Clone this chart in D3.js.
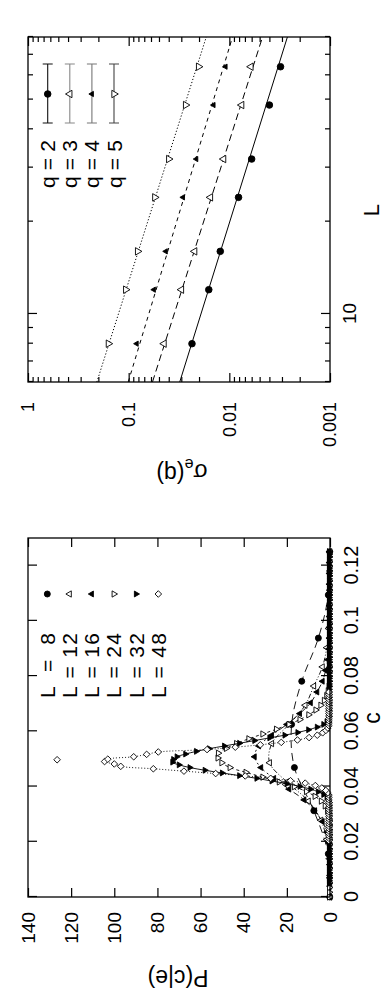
<!DOCTYPE html>
<html>
<head>
<meta charset="utf-8">
<script src="https://cdn.jsdelivr.net/npm/d3@7"></script>
<style>
  body { margin: 0; background: #fff; }
  svg { display: block; }
  text { font-family: "Liberation Sans", Arial, Helvetica, sans-serif; fill: #000; }
</style>
</head>
<body>
<script>
// ---- data : left panel, P(c|e) for several L, c = k / L^2 ----
const sizesL = [8, 12, 16, 24, 32, 48];
const kStart = [0, 0, 0, 0, 5, 47];
const kStep = [1, 1, 1, 1, 1, 2];
const flat = (n, v) => Array(n).fill(v);

const p8 = [0.1, 0.8, 7.5, 16.5, 17.8, 13.1, 5.4, 0.8, 0.1];
const p12 = [0, 0.05, 0.3, 1.5, 4.2, 10, 20, 28, 27, 19, 11.5, 7.5, 3.5, 1.5, 0.6, 0.2, 0.05, 0, 0];
const p16 = [0, 0, 0.02, 0.1, 0.25, 0.5, 1.5, 3.5, 7, 12, 19, 26, 32, 35, 33, 27, 20, 14, 9, 6,
  3.5, 2, 1, 0.5, 0.3, 0.3, 0.3, 0.3, 0.3, 0.3, 0.3, 0.3, 0.3];
const p24 = [...flat(12, 0.3), 0.3, 0.3, 0.3, 0.3, 0.4, 0.6, 1.2, 2.3, 4.1, 7.0, 11.0, 16.6, 23.6, 31.2,
  39, 46.4, 50.2, 52, 51.8, 48.1, 43.4, 37.7, 31.2, 24.9, 19.1, 14, 9.9, 6.6, 4.3, 2.7, 1.6, 0.9,
  0.5, 0.3, 0.3, 0.3, ...flat(25, 0.3)];
const p32 = [...flat(30, 0.4), 0.4, 0.8, 1.5, 3, 5.5, 9, 14, 20, 27, 34, 42, 50, 58, 65, 70, 73, 72.6,
  71, 67, 62, 56, 49, 42, 35, 28, 21, 15, 10, 6, 3, 1.5, 0.6, 0.4, ...flat(61, 0.4)];
const p48 = [...flat(17, 0.5), 0.5, 0.5, 0.5, 1.0, 2.0, 3.8, 6.8, 11.5, 18.3, 27.5, 39.3, 53, 67.7,
  81.9, 97, 100, 104.5, 103, 91, 85, 79.6, 57, 43.9, 32.3, 22.6, 15.1, 9.7, 5.9, 3.4, 1.9, 1.0,
  0.5, 0.5, ...flat(13, 0.5)];
const pAll = [p8, p12, p16, p24, p32, p48];
const extra48 = [[0.0497, 126.5]];

const cTicks = [0, 0.02, 0.04, 0.06, 0.08, 0.1, 0.12];
const pTicks = [0, 20, 40, 60, 80, 100, 120, 140];

// ---- data : right panel, sigma_e(q) vs L ----
const qs = [2, 3, 4, 5];
const sysL = [8, 12, 16, 24, 32, 48, 64];
const sig2 = [0.0235, 0.016, 0.0123, 0.0081, 0.0060, 0.0040, 0.0031];
const sig3 = [0.0445, 0.0299, 0.0221, 0.0154, 0.0114, 0.00754, 0.0061];
const sig4 = [0.0833, 0.0562, 0.0428, 0.0289, 0.0213, 0.01436, 0.0109];
const sig5 = [0.159, 0.107, 0.0815, 0.055, 0.040, 0.0272, 0.0202];
const sigAll = [sig2, sig3, sig4, sig5];
const fitL = [6, 80];
const fit2 = [0.0311, 0.00265];
const fit3 = [0.058, 0.00468];
const fit4 = [0.101, 0.0093];
const fit5 = [0.207, 0.01695];
const fitAll = [fit2, fit3, fit4, fit5];
const LTicksMajor = [10];
const LTicksMinor = [6, 7, 8, 9, 20, 30, 40, 50, 60, 70, 80];
const sTicksMajor = [0.001, 0.01, 0.1, 1];
const sTicksMinor = [0.002, 0.003, 0.004, 0.005, 0.006, 0.007, 0.008, 0.009,
  0.02, 0.03, 0.04, 0.05, 0.06, 0.07, 0.08, 0.09,
  0.2, 0.3, 0.4, 0.5, 0.6, 0.7, 0.8, 0.9];

// ---- setup: figure drawn landscape (1000 x 386) then turned a quarter ----
const W = 386, H = 1000;
const svg = d3.select('body').append('svg').attr('width', W).attr('height', H);
const fig = svg.append('g').attr('transform', `translate(0,${H}) rotate(-90)`);

const tri = (s) => d3.symbol().type(d3.symbolTriangle).size(s)();
const diamond = (r) => `M0,${-r}L${r},0L0,${r}L${-r},0Z`;
const circ = (r) => d3.symbol().type(d3.symbolCircle).size(Math.PI * r * r)();

const markL = [
  {d: circ(3), fill: true, rot: 0},
  {d: tri(17), fill: false, rot: 0},
  {d: tri(15), fill: true, rot: 0},
  {d: tri(17), fill: false, rot: 180},
  {d: tri(15), fill: true, rot: 180},
  {d: diamond(3.3), fill: false, rot: 0}
];
const dashL = ['8,5', '5,2,1,2,1,2', '6,3,2,3', '3,3', null, '1,2'];

const markQ = [
  {d: circ(3.3), fill: true, rot: 0},
  {d: tri(24), fill: false, rot: 0},
  {d: tri(12), fill: true, rot: 0},
  {d: tri(24), fill: false, rot: 180}
];
const dashQ = [null, '7,4', '4,4', '1.2,2'];
const legBarCol = ['#111', '#888', '#777', '#444'];

function drawMark(g, m, x, y) {
  g.append('path')
    .attr('d', m.d)
    .attr('transform', `translate(${x},${y}) rotate(${m.rot})`)
    .attr('fill', m.fill ? '#000' : '#fff')
    .attr('stroke', '#000')
    .attr('stroke-width', 0.9);
}

function styleAxis(g, fs) {
  g.select('.domain').remove();
  g.selectAll('.tick line').attr('stroke', '#000').attr('stroke-width', 1.2);
  g.selectAll('.tick text').attr('font-size', fs).attr('fill', '#000')
    .attr('font-family', '"Liberation Sans", Arial, sans-serif');
}

// ================= left panel =================
const xC = d3.scaleLinear().domain([0, 0.13]).range([103, 462]);
const yP = d3.scaleLinear().domain([0, 140]).range([330, 28]);

const left = fig.append('g');
left.append('g').attr('transform', 'translate(0,330)')
  .call(d3.axisBottom(xC).tickValues(cTicks).tickFormat(d3.format('~g'))
    .tickSizeInner(-9).tickSizeOuter(0).tickPadding(14))
  .call(g => styleAxis(g, 20));
left.append('g').attr('transform', 'translate(0,28)')
  .call(d3.axisTop(xC).tickValues(cTicks).tickFormat('').tickSizeInner(-9).tickSizeOuter(0))
  .call(g => styleAxis(g, 20));
left.append('g').attr('transform', 'translate(103,0)')
  .call(d3.axisLeft(yP).tickValues(pTicks).tickSizeInner(-9).tickSizeOuter(0).tickPadding(15))
  .call(g => styleAxis(g, 19));
left.append('g').attr('transform', 'translate(462,0)')
  .call(d3.axisRight(yP).tickValues(pTicks).tickFormat('').tickSizeInner(-9).tickSizeOuter(0))
  .call(g => styleAxis(g, 19));

const lineLeft = d3.line().x(d => xC(d[0])).y(d => yP(d[1])).curve(d3.curveCatmullRom.alpha(0.5));

sizesL.forEach((L, s) => {
  const pts = pAll[s].map((p, i) => [(kStart[s] + i * kStep[s]) / (L * L), p]);
  const g = left.append('g');
  g.append('path').attr('d', lineLeft(pts)).attr('fill', 'none')
    .attr('stroke', '#000').attr('stroke-width', 0.9)
    .attr('stroke-dasharray', dashL[s]);
  pts.forEach(d => drawMark(g, markL[s], xC(d[0]), yP(d[1])));
  if (L === 48) extra48.forEach(d => drawMark(g, markL[s], xC(d[0]), yP(d[1])));
});

left.append('rect').attr('x', 103).attr('y', 28).attr('width', 359).attr('height', 302)
  .attr('fill', 'none').attr('stroke', '#000').attr('stroke-width', 1.3);

// legend
sizesL.forEach((L, s) => {
  const y = 47.3 + s * 22.2;
  left.append('text').attr('x', 367).attr('y', y).attr('dy', '0.36em')
    .attr('text-anchor', 'end').attr('font-size', 21)
    .attr('textLength', 65).attr('lengthAdjust', 'spacing')
    .text(`L = ${L}`);
  drawMark(left, markL[s], 406, y);
});

left.append('text').attr('x', 282).attr('y', 380).attr('text-anchor', 'middle')
  .attr('font-size', 23).text('c');
left.append('text').attr('transform', 'translate(22,178) rotate(-90)')
  .attr('text-anchor', 'middle').attr('dy', '0.35em').attr('font-size', 23).text('P(c|e)');

// ================= right panel =================
const xL = d3.scaleLog().domain([6, 80]).range([618, 963]);
const yS = d3.scaleLog().domain([0.001, 1]).range([330, 28]);

const right = fig.append('g');
right.append('g').attr('transform', 'translate(0,330)')
  .call(d3.axisBottom(xL).tickValues(LTicksMajor).tickFormat(d3.format('~g'))
    .tickSizeInner(-9).tickSizeOuter(0).tickPadding(13))
  .call(g => styleAxis(g, 19));
right.append('g').attr('transform', 'translate(0,330)')
  .call(d3.axisBottom(xL).tickValues(LTicksMinor).tickFormat('').tickSizeInner(-5).tickSizeOuter(0))
  .call(g => styleAxis(g, 18));
right.append('g').attr('transform', 'translate(0,28)')
  .call(d3.axisTop(xL).tickValues(LTicksMajor).tickFormat('').tickSizeInner(-9).tickSizeOuter(0))
  .call(g => styleAxis(g, 18));
right.append('g').attr('transform', 'translate(0,28)')
  .call(d3.axisTop(xL).tickValues(LTicksMinor).tickFormat('').tickSizeInner(-5).tickSizeOuter(0))
  .call(g => styleAxis(g, 18));
right.append('g').attr('transform', 'translate(618,0)')
  .call(d3.axisLeft(yS).tickValues(sTicksMajor).tickFormat(d3.format('~g'))
    .tickSizeInner(-9).tickSizeOuter(0).tickPadding(20))
  .call(g => styleAxis(g, 18));
right.append('g').attr('transform', 'translate(618,0)')
  .call(d3.axisLeft(yS).tickValues(sTicksMinor).tickFormat('').tickSizeInner(-5).tickSizeOuter(0))
  .call(g => styleAxis(g, 18));
right.append('g').attr('transform', 'translate(963,0)')
  .call(d3.axisRight(yS).tickValues(sTicksMajor).tickFormat('').tickSizeInner(-9).tickSizeOuter(0))
  .call(g => styleAxis(g, 18));
right.append('g').attr('transform', 'translate(963,0)')
  .call(d3.axisRight(yS).tickValues(sTicksMinor).tickFormat('').tickSizeInner(-5).tickSizeOuter(0))
  .call(g => styleAxis(g, 18));

const lineRight = d3.line().x(d => xL(d[0])).y(d => yS(d[1]));

qs.forEach((q, s) => {
  const g = right.append('g');
  const fit = fitL.map((L, i) => [L, fitAll[s][i]]);
  g.append('path').attr('d', lineRight(fit)).attr('fill', 'none')
    .attr('stroke', '#000').attr('stroke-width', 1)
    .attr('stroke-dasharray', dashQ[s]);
  sysL.forEach((L, i) => drawMark(g, markQ[s], xL(L), yS(sigAll[s][i])));
});

right.append('rect').attr('x', 618).attr('y', 28).attr('width', 345).attr('height', 302)
  .attr('fill', 'none').attr('stroke', '#000').attr('stroke-width', 1.3);

// legend
qs.forEach((q, s) => {
  const y = 47.7 + s * 22.1;
  right.append('text').attr('x', 860).attr('y', y).attr('dy', '0.36em')
    .attr('text-anchor', 'end').attr('font-size', 21)
    .attr('textLength', 48).attr('lengthAdjust', 'spacing')
    .text(`q = ${q}`);
  right.append('path')
    .attr('d', `M877,${y}H936M877,${y - 5}V${y + 5}M936,${y - 5}V${y + 5}`)
    .attr('stroke', legBarCol[s]).attr('stroke-width', 1.1).attr('fill', 'none');
  drawMark(right, markQ[s], 906, y);
});

right.append('text').attr('x', 790).attr('y', 379).attr('text-anchor', 'middle')
  .attr('font-size', 22).text('L');
const sl = right.append('text').attr('transform', 'translate(528,182) rotate(-90)')
  .attr('text-anchor', 'middle').attr('dy', '0.35em').attr('font-size', 23);
sl.append('tspan').text('σ');
sl.append('tspan').attr('font-size', 16).attr('dy', '0.3em').text('e');
sl.append('tspan').attr('dy', '-0.3em').text('(q)');
</script>
</body>
</html>
